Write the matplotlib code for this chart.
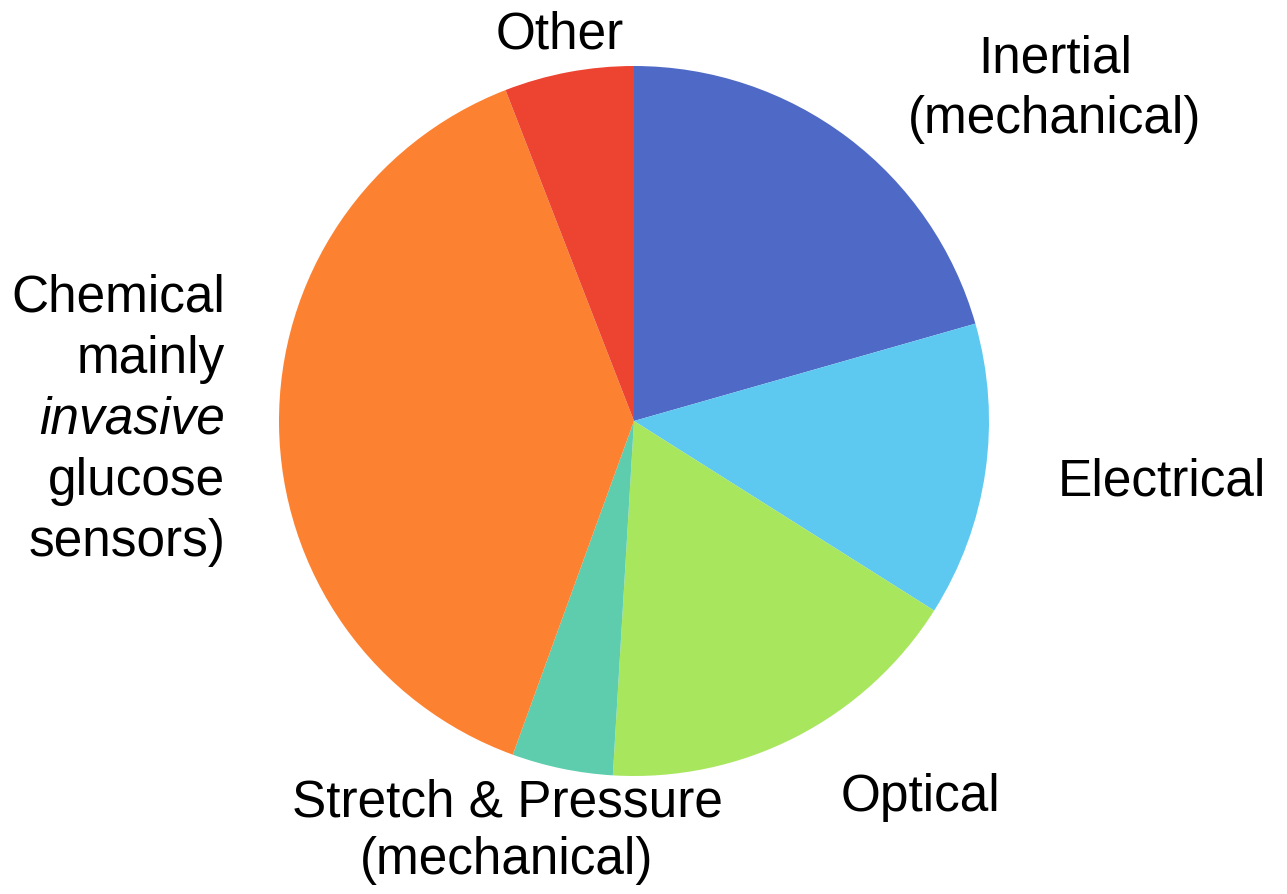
import matplotlib
matplotlib.use("Agg")
import matplotlib.pyplot as plt

# sensor categories, clockwise from 12 o'clock
categories = ["Inertial", "Electrical", "Optical", "Stretch & Pressure",
              "Chemical", "Other"]
shares = [20.6, 13.4, 17.0, 4.6, 38.6, 5.9]
colors = ["#4F6AC6", "#5DC9F1", "#A8E65E", "#5ECDAE", "#FC8232", "#EC4431"]

plt.rcParams["font.family"] = ["Liberation Sans", "DejaVu Sans"]

fig = plt.figure(figsize=(12.87, 8.94), dpi=100)
ax = fig.add_axes([0, 0, 1, 1])

ax.pie(shares, colors=colors, startangle=90, counterclock=False, radius=1,
       wedgeprops=dict(linewidth=0))

# pie centre at pixel (634, 421), radius 355 px
CX, CY, R = 634, 421, 355
ax.set_xlim((0 - CX) / R, (1287 - CX) / R)
ax.set_ylim(-(894 - CY) / R, CY / R)
ax.set_aspect("equal")
ax.axis("off")


def px(x, y):
    return (x - CX) / R, (CY - y) / R


FS = 37
ax.text(*px(560, 35), "Other", ha="center", va="center", fontsize=FS)
ax.text(*px(1055, 89), "Inertial\n(mechanical)", ha="center", va="center",
        fontsize=FS, linespacing=1.3)
ax.text(*px(1058, 482), "Electrical", ha="left", va="center", fontsize=FS)
ax.text(*px(920, 797), "Optical", ha="center", va="center", fontsize=FS)
ax.text(*px(507, 832), "Stretch & Pressure\n(mechanical)", ha="center",
        va="center", fontsize=FS, linespacing=1.22)

# left block, right aligned, with one italic line
left_lines = [("Chemical", "normal"), ("mainly", "normal"),
              ("invasive", "italic"), ("glucose", "normal"),
              ("sensors)", "normal")]
for i, (word, style) in enumerate(left_lines):
    ax.text(*px(225, 298 + i * 61), word, ha="right", va="center",
            fontsize=FS, style=style)

fig.savefig("out.png", dpi=100, facecolor="white")
plt.close(fig)
